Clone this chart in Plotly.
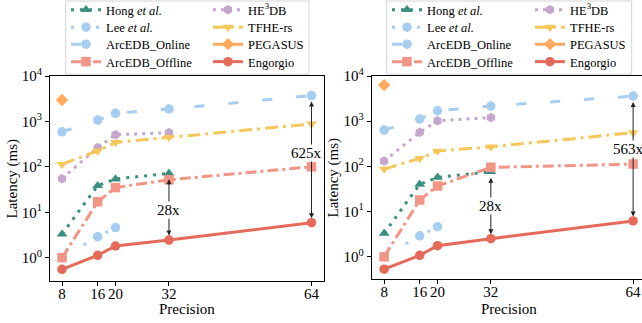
import math
import plotly.graph_objects as go

# ---------------- data ----------------
precision = [8, 16, 20, 32, 64]
prec_4 = [8, 16, 20, 32]
prec_3 = [8, 16, 20]
prec_1 = [8]

# left chart
hong_a = [3.3, 38.5, 54, 72]
lee_a = [1.0, 2.9, 4.6]
online_a = [590, 1070, 1510, 1880, 3700]
offline_a = [1.0, 17, 35, 52, 100]
he3db_a = [55, 265, 510, 565]
tfhe_a = [114, 224, 345, 450, 880]
pegasus_a = [2960]
engorgio_a = [0.555, 1.13, 1.81, 2.45, 5.9]

# right chart
hong_b = [3.3, 40, 57, 76]
lee_b = [1.0, 2.9, 4.6]
online_b = [635, 1110, 1700, 2160, 3590]
offline_b = [1.0, 18, 36.6, 95, 112]
he3db_b = [131, 565, 1020, 1200]
tfhe_b = [87, 150, 218, 270, 556]
pegasus_b = [6300]
engorgio_b = [0.53, 1.07, 1.75, 2.5, 6.2]

ytick_vals = [1, 10, 100, 1000, 10000]
ytick_text = ["10<sup>0</sup>", "10<sup>1</sup>", "10<sup>2</sup>", "10<sup>3</sup>", "10<sup>4</sup>"]
xtick_vals = [8, 16, 20, 32, 64]
xtick_text = ["8", "16", "20", "32", "64"]

names = ["Hong <i>et al.</i>", "Lee <i>et al.</i>", "ArcEDB_Online", "ArcEDB_Offline",
         "HE<sup>3</sup>DB", "TFHE-rs", "PEGASUS", "Engorgio"]

# ---------------- style ----------------
W, H = 642, 323
FONT = "Liberation Serif, Times New Roman, Times, DejaVu Serif, serif"
C_HONG = "#3a8f80"
C_LEE = "#a7cdf0"
C_ONLINE = "#a7cdf0"
C_OFF = "#f39586"
C_HE = "#c4a6cf"
C_TFHE = "#f6c75a"
C_PEG = "#ffa95f"
C_ENG = "#e66a5a"

styles = [
    dict(color=C_HONG, dash="3px,6px", symbol="triangle-up"),
    dict(color=C_LEE, dash="3px,22px", symbol="circle"),
    dict(color=C_ONLINE, dash="10px,24px", symbol="circle"),
    dict(color=C_OFF, dash="11px,4px,3px,4px", symbol="square"),
    dict(color=C_HE, dash="3px,5px", symbol="hexagon"),
    dict(color=C_TFHE, dash="13px,5px,3px,5px", symbol="triangle-down"),
    dict(color=C_PEG, dash="solid", symbol="diamond"),
    dict(color=C_ENG, dash="solid", symbol="circle"),
]


def px_x(v):
    return v / W


def px_y(v):
    return (H - v) / H


fig = go.Figure()

sets = [
    ("x", "y", [(prec_4, hong_a), (prec_3, lee_a), (precision, online_a), (precision, offline_a),
                (prec_4, he3db_a), (precision, tfhe_a), (prec_1, pegasus_a), (precision, engorgio_a)]),
    ("x2", "y2", [(prec_4, hong_b), (prec_3, lee_b), (precision, online_b), (precision, offline_b),
                  (prec_4, he3db_b), (precision, tfhe_b), (prec_1, pegasus_b), (precision, engorgio_b)]),
]

# legend positions: per-item legends (column, row)
col_text_left = [[106, 248], [427, 570]]
row_y = [10, 27.5, 44.5, 62]

legend_layouts = {}
lg_idx = 0
for p, (xa, ya, series) in enumerate(sets):
    for i, ((xs, ys), st) in enumerate(zip(series, styles)):
        lg_idx += 1
        lname = "legend" if lg_idx == 1 else f"legend{lg_idx}"
        col = 0 if i < 4 else 1
        row = i % 4
        legend_layouts[lname] = dict(
            x=px_x(col_text_left[p][col] - 40), y=px_y(row_y[row]),
            xanchor="left", yanchor="middle",
            bgcolor="rgba(0,0,0,0)", borderwidth=0,
            font=dict(family=FONT, size=12.5, color="black"),
            itemwidth=30,
        )
        fig.add_trace(go.Scatter(
            x=xs, y=ys, xaxis=xa, yaxis=ya, name=names[i],
            mode="lines+markers",
            line=dict(color=st["color"], width=3, dash=st["dash"]),
            marker=dict(color=st["color"], symbol=st["symbol"], size=9.5),
            legend=lname, showlegend=True,
        ))

# legend boxes
for x0, x1 in [(65.7, 309), (386.7, 631.7)]:
    fig.add_shape(type="rect", xref="paper", yref="paper",
                  x0=px_x(x0), x1=px_x(x1), y0=px_y(74), y1=px_y(1),
                  line=dict(color="#d4d4d4", width=1), fillcolor="rgba(255,255,255,0.8)",
                  layer="below")

axis_common = dict(
    showline=True, linecolor="black", linewidth=1, mirror=True,
    ticks="outside", ticklen=4, tickcolor="black", tickwidth=1,
    showgrid=False, zeroline=False, automargin=False,
    tickfont=dict(family=FONT, size=15, color="black"),
)

fig.update_layout(
    width=W, height=H,
    margin=dict(l=0, r=0, t=0, b=0, autoexpand=False),
    paper_bgcolor="white", plot_bgcolor="white",
    font=dict(family=FONT, size=15, color="black"),
    xaxis=dict(domain=[px_x(50), px_x(324)], range=[5.3, 66.8], anchor="y",
               tickvals=xtick_vals, ticktext=xtick_text, ticklabelstandoff=-5, **axis_common),
    yaxis=dict(domain=[px_y(281), px_y(76)], type="log", range=[-0.513, 4], anchor="x",
               tickvals=ytick_vals, ticktext=ytick_text, **axis_common),
    xaxis2=dict(domain=[px_x(371.7), 1.0], range=[5.2, 66.0], anchor="y2",
                tickvals=xtick_vals, ticktext=xtick_text, ticklabelstandoff=-5, **axis_common),
    yaxis2=dict(domain=[px_y(279), px_y(76)], type="log", range=[-0.494, 4], anchor="x2",
                tickvals=ytick_vals, ticktext=ytick_text, **axis_common),
    **legend_layouts,
)

# axis titles
for xc in [187, 509]:
    fig.add_annotation(text="Precision", xref="paper", yref="paper", x=px_x(xc), y=px_y(309),
                       xanchor="center", yanchor="middle", showarrow=False,
                       font=dict(family=FONT, size=15, color="black"))
for xc, yc in [(12, 178.5), (333, 177.5)]:
    fig.add_annotation(text="Latency (ms)", xref="paper", yref="paper", x=px_x(xc), y=px_y(yc),
                       xanchor="center", yanchor="middle", showarrow=False, textangle=-90,
                       font=dict(family=FONT, size=15, color="black"))

# speed-up arrows
arrows = [
    ("x", "y", 64, online_a[4], engorgio_a[4], "625x", 62.8, 200),
    ("x", "y", 32, hong_a[3], engorgio_a[3], "28x", 32, 11.2),
    ("x2", "y2", 64, online_b[4], engorgio_b[4], "563x", 63.0, 238),
    ("x2", "y2", 32, hong_b[3], engorgio_b[3], "28x", 32, 13.2),
]
for xa, ya, xv, top, bot, label, tx, ty in arrows:
    fig.add_annotation(xref=xa, yref=ya, axref=xa, ayref=ya,
                       x=xv, y=math.log10(bot), ax=xv, ay=math.log10(top),
                       text="", showarrow=True, arrowside="end+start",
                       arrowhead=2, arrowsize=1, arrowwidth=1, arrowcolor="#222222",
                       standoff=4.5, startstandoff=4.5)
    fig.add_annotation(xref=xa, yref=ya, x=tx, y=math.log10(ty), text=label,
                       showarrow=False, bgcolor="white", borderpad=0,
                       font=dict(family=FONT, size=15, color="black"))

fig.write_html("out.html", config={"displayModeBar": False},
               post_script="document.body.style.margin='0';document.body.style.overflow='hidden';")
